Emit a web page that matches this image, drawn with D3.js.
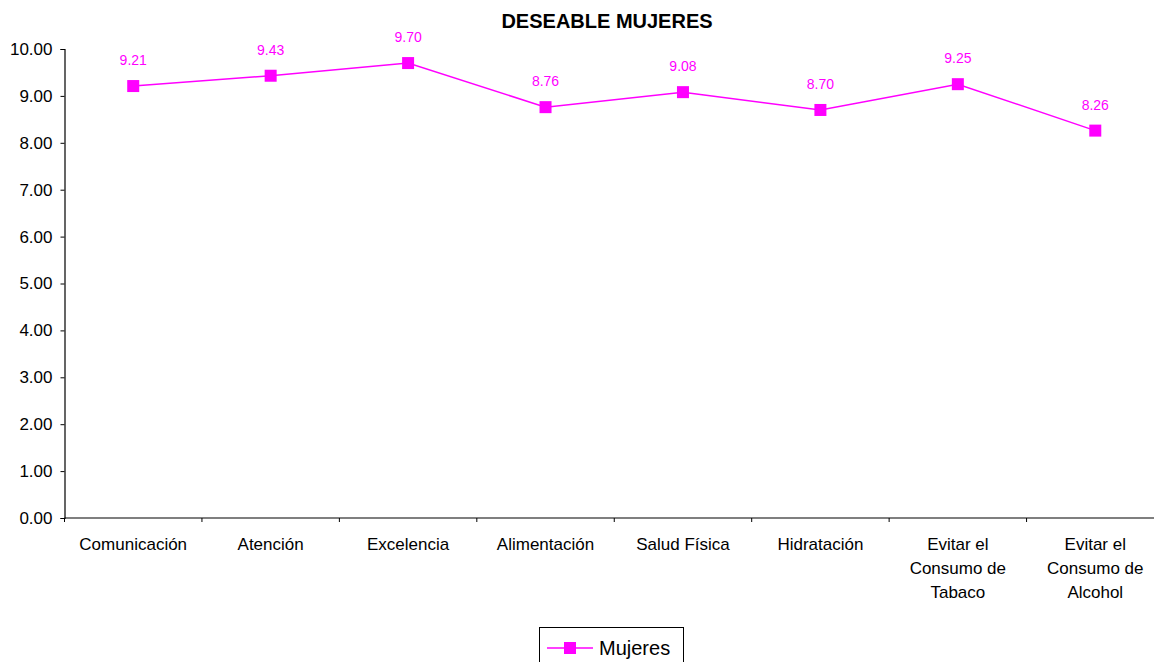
<!DOCTYPE html>
<html>
<head>
<meta charset="utf-8">
<script src="https://cdn.jsdelivr.net/npm/d3@7.9.0/dist/d3.min.js"></script>
<style>
  body { margin: 0; background: #fff; }
  svg { display: block; font-family: "Liberation Sans", Arial, sans-serif; }
</style>
</head>
<body>
<svg id="chart" width="1154" height="662"></svg>
<script>
const categories = [
  ['Comunicación'],
  ['Atención'],
  ['Excelencia'],
  ['Alimentación'],
  ['Salud Física'],
  ['Hidratación'],
  ['Evitar el', 'Consumo de', 'Tabaco'],
  ['Evitar el', 'Consumo de', 'Alcohol']
];
const mujeres = [9.21, 9.43, 9.70, 8.76, 9.08, 8.70, 9.25, 8.26];
const yTicks = [0, 1, 2, 3, 4, 5, 6, 7, 8, 9, 10];
const seriesName = 'Mujeres';
const magenta = '#ff00ff';

const svg = d3.select('#chart');
const plot = { left: 64.5, right: 1164, top: 49, bottom: 518 };

const x = d3.scaleBand()
  .domain(d3.range(categories.length))
  .range([plot.left, plot.right]);

const y = d3.scaleLinear()
  .domain([0, 10])
  .range([plot.bottom, plot.top]);

// title
svg.append('text')
  .attr('x', 607).attr('y', 28)
  .attr('text-anchor', 'middle')
  .style('font-size', '20px').style('font-weight', 'bold')
  .text('DESEABLE MUJERES');

// y axis
const yAxis = d3.axisLeft(y)
  .tickValues(yTicks)
  .tickSize(4)
  .tickFormat(d3.format('.2f'));
const gy = svg.append('g')
  .attr('transform', `translate(${plot.left},0)`)
  .call(yAxis);
gy.select('.domain').attr('stroke', '#000').attr('stroke-width', 1.2);
gy.selectAll('.tick line').attr('stroke', '#000');
gy.selectAll('.tick text')
  .attr('x', -12)
  .style('font-size', '17px')
  .style('font-family', '"Liberation Sans", Arial, sans-serif')
  .attr('fill', '#000');

// x axis line + tick marks between categories
svg.append('line')
  .attr('x1', plot.left).attr('x2', plot.right)
  .attr('y1', plot.bottom).attr('y2', plot.bottom)
  .attr('stroke', '#000').attr('stroke-width', 1.2);
svg.selectAll('.xtick')
  .data(d3.range(categories.length + 1))
  .join('line')
  .attr('class', 'xtick')
  .attr('x1', i => plot.left + i * x.step()).attr('x2', i => plot.left + i * x.step())
  .attr('y1', plot.bottom).attr('y2', plot.bottom + 4)
  .attr('stroke', '#000');

// category labels
const labels = svg.selectAll('.xlabel')
  .data(categories)
  .join('text')
  .attr('class', 'xlabel')
  .attr('x', (d, i) => x(i) + x.bandwidth() / 2)
  .attr('y', 550)
  .attr('text-anchor', 'middle')
  .style('font-size', '17px');
labels.selectAll('tspan')
  .data(d => d)
  .join('tspan')
  .attr('x', function () { return this.parentNode.getAttribute('x'); })
  .attr('dy', (d, i) => i === 0 ? 0 : 24)
  .text(d => d);

// line
const cx = i => x(i) + x.bandwidth() / 2;
svg.append('path')
  .datum(mujeres)
  .attr('fill', 'none')
  .attr('stroke', magenta)
  .attr('stroke-width', 1.5)
  .attr('d', d3.line().x((d, i) => cx(i)).y(d => y(d)));

// markers
svg.selectAll('.marker')
  .data(mujeres)
  .join('rect')
  .attr('class', 'marker')
  .attr('x', (d, i) => cx(i) - 6)
  .attr('y', d => y(d) - 6)
  .attr('width', 12).attr('height', 12)
  .attr('fill', magenta);

// data labels
svg.selectAll('.dlabel')
  .data(mujeres)
  .join('text')
  .attr('class', 'dlabel')
  .attr('x', (d, i) => cx(i))
  .attr('y', d => y(d) - 21)
  .attr('text-anchor', 'middle')
  .attr('fill', magenta)
  .style('font-size', '14px')
  .text(d => d.toFixed(2));

// legend
const lg = svg.append('g');
lg.append('rect')
  .attr('x', 539.5).attr('y', 627.5)
  .attr('width', 144).attr('height', 40)
  .attr('fill', '#fff').attr('stroke', '#000').attr('stroke-width', 1);
lg.append('line')
  .attr('x1', 547).attr('x2', 593)
  .attr('y1', 648).attr('y2', 648)
  .attr('stroke', magenta).attr('stroke-width', 1.5);
lg.append('rect')
  .attr('x', 564).attr('y', 642)
  .attr('width', 12).attr('height', 12)
  .attr('fill', magenta);
lg.append('text')
  .attr('x', 599).attr('y', 655)
  .style('font-size', '20px')
  .text(seriesName);
</script>
</body>
</html>
